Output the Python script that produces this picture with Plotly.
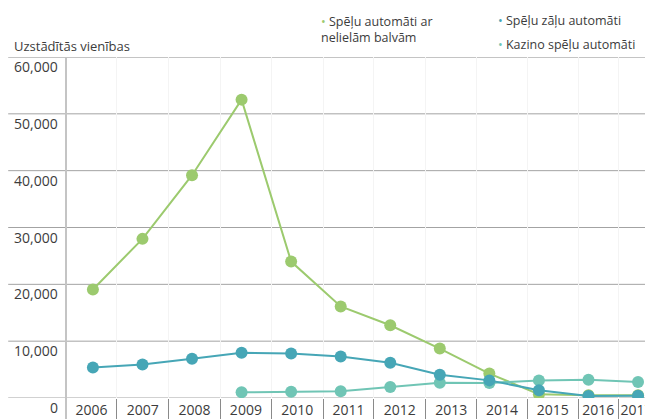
import plotly.graph_objects as go

# ---------------- data ----------------
years = ["2006", "2007", "2008", "2009", "2010", "2011", "2012",
         "2013", "2014", "2015", "2016", "2017"]
small_prize = [19100, 28000, 39200, 52500, 24000, 16100, 12800,
               8700, 4300, 650, 480, 480]
hall_machines = [5350, 5900, 6900, 7950, 7850, 7300, 6200,
                 4100, 3100, 1350, 350, 400]
casino_machines = [None, None, None, 1000, 1100, 1180, 1950,
                   2700, 2650, 3100, 3200, 2800]
y_ticks = [0, 10000, 20000, 30000, 40000, 50000, 60000]
y_tick_labels = ["0", "10,000", "20,000", "30,000", "40,000", "50,000", "60,000"]
series_names = ["Spēļu automāti ar<br>nelielām balvām",
                "Spēļu zāļu automāti",
                "Kazino spēļu automāti"]
y_title = "Uzstādītās vienības"

# ---------------- layout constants ----------------
OFF = 8                      # page body margin of the html page
W, H = 653 - OFF, 419 - OFF
M_L, M_R, M_T, M_B = 66 - OFF, 0, 57 - OFF, 21
PW = W - M_L - M_R
PH = H - M_T - M_B
FIRST_PX, LAST_PX = 93, 640          # screen pixel centre of first / last point
UNIT = (LAST_PX - FIRST_PX) / (len(years) - 1)
def px2x(p):                 # screen px -> x axis units
    return (p - FIRST_PX) / UNIT
XMIN, XMAX = px2x(66), px2x(653)
edges_px = [66, 117, 169, 221, 272, 324, 375, 427, 478, 529, 580, 620, 657]
edges = [px2x(p) for p in edges_px]
mids = [(a + b) / 2 for a, b in zip(edges[:-1], edges[1:])]
idx = list(range(len(years)))

GREEN = "#9cca6e"
BLUE = "#46a6b6"
TEAL = "#70c5b5"
TXT = "#3c3c3c"
FONT = "Open Sans"

fig = go.Figure()
for vals, col in [(small_prize, GREEN), (casino_machines, TEAL), (hall_machines, BLUE)]:
    fig.add_trace(go.Scatter(x=idx, y=vals, mode="lines+markers",
                             line=dict(color=col, width=2),
                             marker=dict(color=col, size=12),
                             showlegend=False, hoverinfo="skip"))

fig.update_layout(
    width=W, height=H,
    margin=dict(l=M_L, r=M_R, t=M_T, b=M_B),
    paper_bgcolor="white", plot_bgcolor="white",
    font=dict(family=FONT, size=14, color=TXT),
    xaxis=dict(range=[XMIN, XMAX], tickvals=edges[1:-1], ticktext=[""] * (len(edges) - 2),
               ticks="outside", ticklen=M_B, tickcolor="#8a8a8a", tickwidth=1,
               showgrid=True, gridcolor="#f4f4f4", gridwidth=1,
               zeroline=False, showline=False, fixedrange=True),
    xaxis2=dict(overlaying="x", matches="x", anchor="y", side="bottom",
                tickvals=mids, ticktext=years, ticks="", showgrid=False,
                zeroline=False, showline=False, ticklabelstandoff=2,
                ticklabeloverflow="allow",
                tickfont=dict(size=14, color=TXT)),
    yaxis=dict(range=[0, 60000], tickvals=y_ticks, showticklabels=False,
               showgrid=False, zeroline=False, showline=False, fixedrange=True),
)
# invisible trace so xaxis2 is rendered
fig.add_trace(go.Scatter(x=[idx[0]], y=[None], xaxis="x2", yaxis="y",
                         showlegend=False, hoverinfo="skip"))

def pxp(p):                  # screen px -> paper x
    return (p - 66) / PW
def py(p):                   # screen px -> paper y
    return (398 - p) / PH

x_left_paper = pxp(8)
for v, lab in zip(y_ticks, y_tick_labels):
    top = v == 60000
    fig.add_shape(type="line", xref="paper", yref="y", x0=x_left_paper, x1=1,
                  y0=v, y1=v, line=dict(color="#c4c4c4" if top else "#a3a3a3",
                                        width=2 if top else 1), layer="below")
    fig.add_annotation(xref="paper", yref="y", x=0, y=v, xshift=-6, yshift=2,
                       xanchor="right", yanchor="top", text=lab, showarrow=False,
                       font=dict(size=14, color=TXT))
# y axis line
fig.add_shape(type="line", xref="paper", yref="paper", x0=0, x1=0,
              y0=-M_B / PH, y1=1, line=dict(color="#c4c4c4", width=2))

fig.add_annotation(xref="paper", yref="paper", x=pxp(12), y=py(46), xanchor="left",
                   yanchor="middle", text=y_title, showarrow=False,
                   font=dict(size=13, color=TXT))
legend_items = [
    (series_names[0], GREEN, 320, 29),
    (series_names[1], BLUE, 497, 20),
    (series_names[2], TEAL, 497, 44),
]
for name, col, lx, ly in legend_items:
    fig.add_annotation(xref="paper", yref="paper", x=pxp(lx), y=py(ly),
                       xanchor="left", yanchor="middle", align="left",
                       text=f"<span style='color:{col}'>•</span> {name}",
                       showarrow=False, font=dict(size=12.5, color=TXT))

fig.write_html("out.html")
